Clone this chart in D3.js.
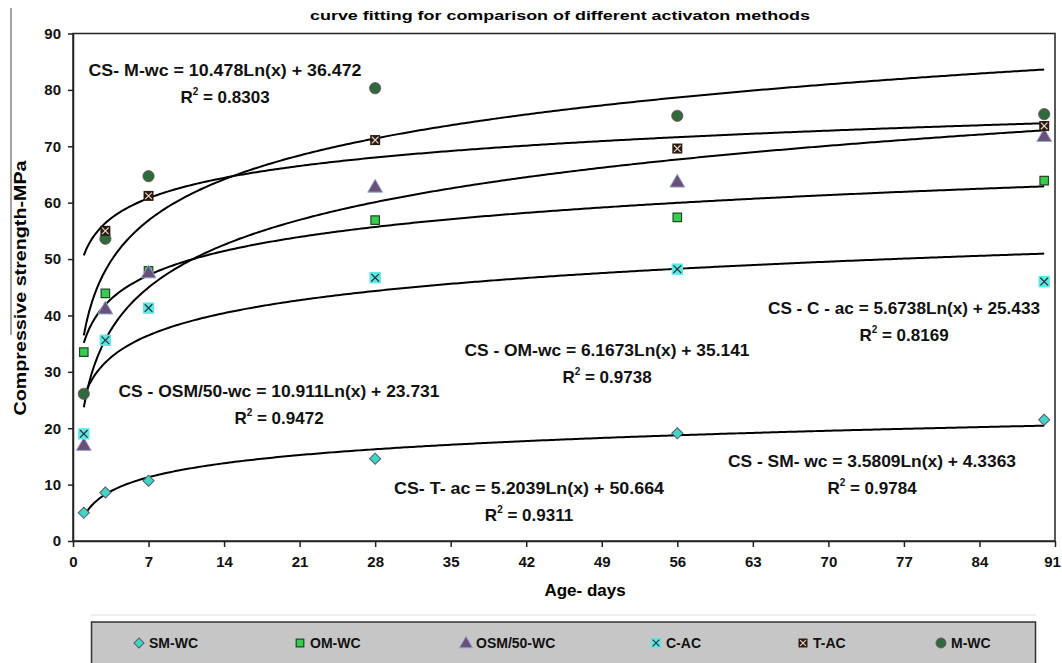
<!DOCTYPE html>
<html><head><meta charset="utf-8">
<script src="https://cdn.jsdelivr.net/npm/d3@7"></script>
<style>
body{margin:0;background:#fff;}
svg{display:block;font-family:"Liberation Sans",Arial,sans-serif;font-weight:bold;}
</style></head>
<body><svg id="c" width="1062" height="663"></svg>
<script>
// ---- data ----
const days = [1, 3, 7, 28, 56, 90];
const smWC   = [5.0, 8.6, 10.7, 14.6, 19.1, 21.5];
const omWC   = [33.5, 43.9, 47.9, 56.9, 57.4, 63.9];
const osmWC  = [17.0, 41.2, 47.6, 62.8, 63.7, 71.8];
const cAC    = [19.0, 35.6, 41.3, 46.7, 48.2, 46.0];
const tAC    = [null, 55.0, 61.2, 71.1, 69.6, 73.6];
const mWC    = [26.1, 53.6, 64.7, 80.3, 75.4, 75.7];
const seriesNames = ["SM-WC", "OM-WC", "OSM/50-WC", "C-AC", "T-AC", "M-WC"];
const xTicks = [0, 7, 14, 21, 28, 35, 42, 49, 56, 63, 70, 77, 84, 91];
const yTicks = [0, 10, 20, 30, 40, 50, 60, 70, 80, 90];
// log fits: y = a*ln(x) + b
const fitNames = ["CS- M-wc", "CS - OM-wc", "CS - OSM/50-wc", "CS - C - ac", "CS- T- ac", "CS - SM- wc"];
const fitA = [10.478, 6.1673, 10.911, 5.6738, 5.2039, 3.5809];
const fitB = [36.472, 35.141, 23.731, 25.433, 50.664, 4.3363];
const fitAText = ["10.478", "6.1673", "10.911", "5.6738", "5.2039", "3.5809"];
const fitBText = ["36.472", "35.141", "23.731", "25.433", "50.664", "4.3363"];
const fitR2 = ["0.8303", "0.9738", "0.9472", "0.8169", "0.9311", "0.9784"];

// ---- layout ----
const svg = d3.select("#c");
const x = d3.scaleLinear().domain([0, 91]).range([73, 1055]);
const y = d3.scaleLinear().domain([0, 90]).range([541, 33.5]);

// stray left rule from the source image
svg.append("line").attr("x1", 11).attr("x2", 11).attr("y1", 8).attr("y2", 335)
  .attr("stroke", "#666").attr("stroke-width", 1.2);

// title
svg.append("text").attr("x", 560).attr("y", 20).attr("text-anchor", "middle")
  .attr("font-size", 13).attr("textLength", 500).attr("lengthAdjust", "spacingAndGlyphs")
  .text("curve fitting for comparison of different activaton methods");

// frame
svg.append("rect").attr("x", x(0)).attr("y", y(90)).attr("width", x(91) - x(0)).attr("height", y(0) - y(90))
  .attr("fill", "#fff").attr("stroke", "#222").attr("stroke-width", 1.5);

// axes
const gx = svg.append("g").attr("transform", `translate(0,${y(0)})`)
  .call(d3.axisBottom(x).tickValues(xTicks).tickSize(6).tickPadding(9).tickSizeOuter(0));
gx.selectAll("text").attr("font-size", 15).attr("font-family", "Liberation Sans, Arial").attr("font-weight", "bold").attr("fill", "#111");
gx.selectAll(".tick").filter(d => d === 91).select("text").attr("dx", -3);
const gy = svg.append("g").attr("transform", `translate(${x(0)},0)`)
  .call(d3.axisLeft(y).tickValues(yTicks).tickSize(5).tickPadding(7).tickSizeOuter(0));
gy.selectAll("text").attr("font-size", 15).attr("font-family", "Liberation Sans, Arial").attr("font-weight", "bold").attr("fill", "#111");
svg.selectAll(".domain").attr("stroke", "#222").attr("stroke-width", 1.5);
svg.selectAll(".tick line").attr("stroke", "#222").attr("stroke-width", 1.5);

// axis titles
svg.append("text").attr("x", 585).attr("y", 596).attr("text-anchor", "middle")
  .attr("font-size", 17).text("Age- days");
svg.append("text").attr("transform", "translate(26,288) rotate(-90)").attr("text-anchor", "middle")
  .attr("font-size", 17).attr("textLength", 255).attr("lengthAdjust", "spacingAndGlyphs")
  .text("Compressive strength-MPa");

// fit curves
const xs = d3.range(1, 90.001, 0.25);
const line = d3.line().x(d => x(d[0])).y(d => y(d[1]));
fitA.forEach((a, i) => {
  svg.append("path").datum(xs.map(v => [v, a * Math.log(v) + fitB[i]]))
    .attr("d", line).attr("fill", "none").attr("stroke", "#000").attr("stroke-width", 2);
});

// markers
function marker(g, k, s) {
  s = s || 1;
  if (k === 0) {
    g.append("path").attr("d", d3.symbol(d3.symbolSquare, 62 * s)()).attr("transform", "rotate(45)")
      .attr("fill", "#3fd6c6").attr("stroke", "#5a5a6a").attr("stroke-width", 1);
  } else if (k === 1) {
    g.append("path").attr("d", d3.symbol(d3.symbolSquare, 72 * s)())
      .attr("fill", "#38cc4c").attr("stroke", "#1d4a2a").attr("stroke-width", 1.2);
  } else if (k === 2) {
    g.append("path").attr("d", d3.symbol(d3.symbolTriangle, 95 * s)()).attr("transform", "translate(0,1)")
      .attr("fill", "#6a4f7a").attr("stroke", "#90a8c8").attr("stroke-width", 1);
  } else if (k === 3) {
    g.append("path").attr("d", d3.symbol(d3.symbolSquare, 130 * s)()).attr("fill", "#5fe6e6");
    g.append("path").attr("d", d3.symbol(d3.symbolX, 40 * s)()).attr("fill", "none").attr("stroke", "#233").attr("stroke-width", 1.2);
  } else if (k === 4) {
    g.append("path").attr("d", d3.symbol(d3.symbolSquare, 100 * s)()).attr("fill", "#2a1a10");
    g.append("path").attr("d", d3.symbol(d3.symbolX, 30 * s)()).attr("fill", "none").attr("stroke", "#e8d8c8").attr("stroke-width", 1.2);
  } else {
    g.append("path").attr("d", d3.symbol(d3.symbolCircle, 100 * s)())
      .attr("fill", "#2e6a3c").attr("stroke", "#7a4a60").attr("stroke-width", 0.8);
  }
}
const allSeries = [smWC, omWC, osmWC, cAC, tAC, mWC];
const drawOrder = [1, 2, 3, 0, 5, 4];
drawOrder.forEach(k => {
  allSeries[k].forEach((v, j) => {
    if (v == null) return;
    const g = svg.append("g").attr("transform", `translate(${x(days[j])},${y(v)})`);
    marker(g, k);
  });
});

// equation labels
const eqPos = [[225, 76, 273], [607, 356, 285], [279, 397, 321], [904, 314, 272], [529, 494, 270], [872, 467, 288]];
fitNames.forEach((n, i) => {
  const [cx, cy, w] = eqPos[i];
  svg.append("text").attr("x", cx).attr("y", cy).attr("text-anchor", "middle").attr("font-size", 16)
    .attr("fill", "#111").attr("textLength", w).attr("lengthAdjust", "spacingAndGlyphs")
    .text(`${n} = ${fitAText[i]}Ln(x) + ${fitBText[i]}`);
  const t = svg.append("text").attr("x", cx).attr("y", cy + 27).attr("text-anchor", "middle")
    .attr("font-size", 17).attr("fill", "#111");
  t.append("tspan").text("R");
  t.append("tspan").attr("font-size", 10).attr("dy", -8).text("2");
  t.append("tspan").attr("dy", 8).text(" = " + fitR2[i]);
});

// legend
svg.append("line").attr("x1", 91).attr("x2", 1036).attr("y1", 615).attr("y2", 615).attr("stroke", "#ddd");
svg.append("rect").attr("x", 91.5).attr("y", 622).attr("width", 944).attr("height", 50)
  .attr("fill", "#c6c6c6").attr("stroke", "#333").attr("stroke-width", 1.5);
const legX = [139, 300, 466, 656, 803, 941];
seriesNames.forEach((n, k) => {
  const g = svg.append("g").attr("transform", `translate(${legX[k]},643)`);
  marker(g, k, 0.8);
  svg.append("text").attr("x", legX[k] + 10).attr("y", 648).attr("font-size", 14).attr("fill", "#111").text(n);
});
</script></body></html>
